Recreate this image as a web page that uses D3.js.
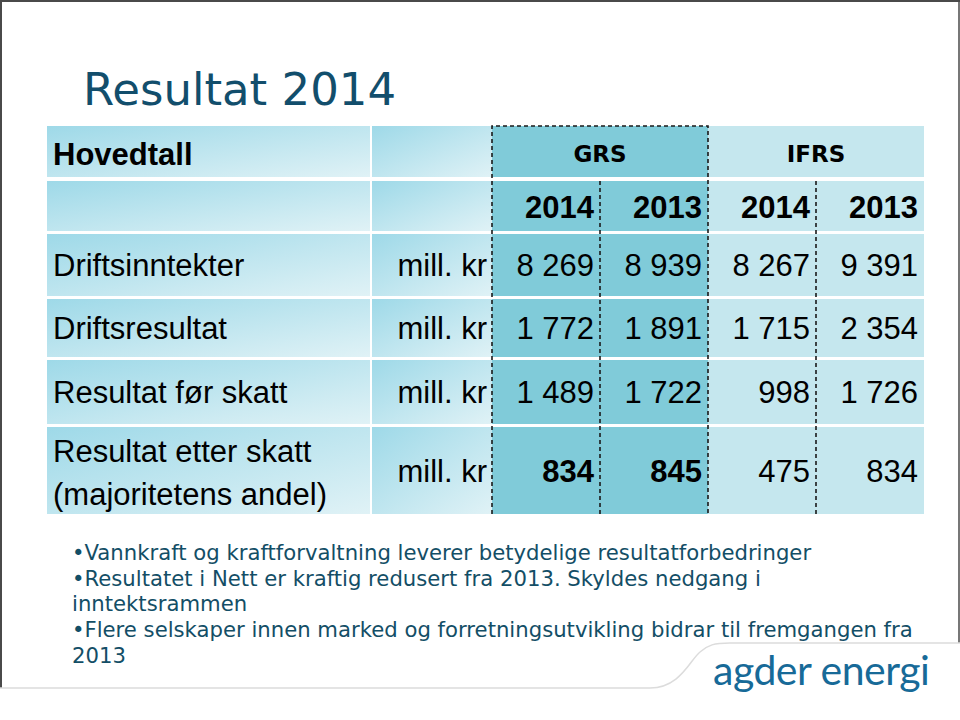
<!DOCTYPE html>
<html>
<head>
<meta charset="utf-8">
<script src="https://cdn.jsdelivr.net/npm/d3@7"></script>
<style>
  html, body { margin: 0; padding: 0; background: #fff; }
  svg { display: block; }
</style>
</head>
<body>
<svg id="chart" width="960" height="720"></svg>
<script>
// ---------------- DATA ----------------
const title = "Resultat 2014";
const tableHeading = "Hovedtall";
const groups = ["GRS", "IFRS"];
const columns = ["GRS 2014", "GRS 2013", "IFRS 2014", "IFRS 2013"];
const yearLabels = ["2014", "2013", "2014", "2013"];
const rowLabels = ["Driftsinntekter", "Driftsresultat", "Resultat før skatt", "Resultat etter skatt\n(majoritetens andel)"];
const unitLabel = "mill. kr";
const grs2014 = [8269, 1772, 1489, 834];
const grs2013 = [8939, 1891, 1722, 845];
const ifrs2014 = [8267, 1715, 998, 475];
const ifrs2013 = [9391, 2354, 1726, 834];
const bullets = [
  "•Vannkraft og kraftforvaltning leverer betydelige resultatforbedringer",
  "•Resultatet i Nett er kraftig redusert fra 2013. Skyldes nedgang i\ninntektsrammen",
  "•Flere selskaper innen marked og forretningsutvikling bidrar til fremgangen fra\n2013"
];
const logoText = "agder energi";

// ---------------- LAYOUT / STYLE ----------------
const svg = d3.select("#chart");
const W = 960, H = 720;
const numFmt = d3.formatLocale({decimal: ",", thousands: " ", grouping: [3], currency: ["", ""]}).format(",d");
const seriesByCol = [grs2014, grs2013, ifrs2014, ifrs2013];

const tableLeft = 47, labelColRight = 370, unitColLeft = 372, dataLeft = 492, dataRight = 924;
const header1 = {top: 126, h: 51};
const header2 = {top: 181, h: 50};
const rowTops = [234, 299, 360, 427];
const rowHeights = [62, 58, 64, 87];
const boldRowIndex = 3; // GRS values bold in last row

const colScale = d3.scaleBand().domain(columns).range([dataLeft, dataRight]).paddingInner(0).paddingOuter(0);
const groupScale = d3.scaleBand().domain(groups).range([dataLeft, dataRight]);
const rowY = d3.scaleOrdinal().domain(rowLabels).range(rowTops);
const rowH = d3.scaleOrdinal().domain(rowLabels).range(rowHeights);

const grsFill = "#80cbd9";
const ifrsFill = "#c5e7ee";
const textFont = "'Liberation Sans', Arial, sans-serif";
const fs = 31;

const defs = svg.append("defs");
const grad = defs.append("linearGradient").attr("id", "cellGrad")
  .attr("x1", 0).attr("y1", 0).attr("x2", 1).attr("y2", 1);
grad.append("stop").attr("offset", "0%").attr("stop-color", "#9ed9e8");
grad.append("stop").attr("offset", "100%").attr("stop-color", "#e0f2f6");

// ---------------- FRAME ----------------
const frame = svg.append("g");
frame.append("line").attr("x1", 1).attr("y1", 0).attr("x2", 1).attr("y2", 688).attr("stroke", "#4a4a4a").attr("stroke-width", 2);
frame.append("line").attr("x1", 0).attr("y1", 1).attr("x2", W).attr("y2", 1).attr("stroke", "#4a4a4a").attr("stroke-width", 2);
frame.append("line").attr("x1", 959).attr("y1", 0).attr("x2", 959).attr("y2", 643).attr("stroke", "#4a4a4a").attr("stroke-width", 1.5);
frame.append("path")
  .attr("d", "M0,688 L650,688 C680,688 690,660 700,652 C708,645 714,643 730,643 L960,643")
  .attr("fill", "none").attr("stroke", "#dcdcdc").attr("stroke-width", 1.5);

// ---------------- TITLE ----------------
svg.append("text").attr("x", 83).attr("y", 105)
  .attr("font-family", "'DejaVu Sans', Verdana, sans-serif").attr("font-size", 45)
  .attr("fill", "#124e6c").text(title);

// ---------------- TABLE ----------------
const table = svg.append("g");
// header row 1
table.append("rect").attr("x", tableLeft).attr("y", header1.top).attr("width", labelColRight - tableLeft).attr("height", header1.h).attr("fill", "url(#cellGrad)");
table.append("rect").attr("x", unitColLeft).attr("y", header1.top).attr("width", dataLeft - unitColLeft).attr("height", header1.h).attr("fill", "url(#cellGrad)");
table.selectAll("rect.grp").data(groups).join("rect").attr("class", "grp")
  .attr("x", d => groupScale(d)).attr("y", header1.top)
  .attr("width", groupScale.bandwidth()).attr("height", header1.h)
  .attr("fill", (d, i) => i === 0 ? grsFill : ifrsFill);

// header row 2 + data rows
const allRows = [{top: header2.top, h: header2.h, key: "__years"}].concat(rowLabels.map(r => ({top: rowY(r), h: rowH(r), key: r})));
allRows.forEach(r => {
  table.append("rect").attr("x", tableLeft).attr("y", r.top).attr("width", labelColRight - tableLeft).attr("height", r.h).attr("fill", "url(#cellGrad)");
  table.append("rect").attr("x", unitColLeft).attr("y", r.top).attr("width", dataLeft - unitColLeft).attr("height", r.h).attr("fill", "url(#cellGrad)");
  table.selectAll(null).data(columns).join("rect")
    .attr("x", c => colScale(c)).attr("y", r.top)
    .attr("width", colScale.bandwidth()).attr("height", r.h)
    .attr("fill", c => c.startsWith("GRS") ? grsFill : ifrsFill);
});

// header texts
table.append("text").attr("x", 53).attr("y", 165)
  .attr("font-family", textFont).attr("font-size", fs).attr("font-weight", "bold").attr("fill", "#000")
  .text(tableHeading);
table.selectAll("text.grp").data(groups).join("text").attr("class", "grp")
  .attr("x", d => groupScale(d) + groupScale.bandwidth() / 2).attr("y", 162)
  .attr("text-anchor", "middle")
  .attr("font-family", "'DejaVu Sans', Verdana, sans-serif").attr("font-size", 23).attr("font-weight", "bold")
  .attr("fill", "#000").text(d => d);
table.selectAll("text.yr").data(columns).join("text").attr("class", "yr")
  .attr("x", c => colScale(c) + colScale.bandwidth() - 6).attr("y", 218)
  .attr("text-anchor", "end")
  .attr("font-family", textFont).attr("font-size", fs).attr("font-weight", "bold").attr("fill", "#000")
  .text((c, i) => yearLabels[i]);

// data rows texts
rowLabels.forEach((r, ri) => {
  const base = rowY(r) + rowH(r) / 2 + 11;
  const lines = r.split("\n");
  const lbl = table.append("text").attr("x", 53)
    .attr("font-family", textFont).attr("font-size", fs).attr("fill", "#000");
  if (lines.length === 1) {
    lbl.attr("y", base).text(lines[0]);
  } else {
    lines.forEach((ln, li) => {
      lbl.append("tspan").attr("x", 53).attr("y", base - 20 + li * 43).text(ln);
    });
  }
  table.append("text").attr("x", 487).attr("y", base).attr("text-anchor", "end")
    .attr("font-family", textFont).attr("font-size", fs).attr("fill", "#000").text(unitLabel);
  table.selectAll(null).data(columns).join("text")
    .attr("x", c => colScale(c) + colScale.bandwidth() - 6).attr("y", base)
    .attr("text-anchor", "end")
    .attr("font-family", textFont).attr("font-size", fs)
    .attr("font-weight", c => (ri === boldRowIndex && c.startsWith("GRS")) ? "bold" : "normal")
    .attr("fill", "#000")
    .text((c, ci) => numFmt(seriesByCol[ci][ri]));
});

// dashed lines
const tableBottom = rowY(rowLabels[rowLabels.length - 1]) + rowH(rowLabels[rowLabels.length - 1]);
const dash = g => g.attr("stroke", "#1a1a1a").attr("stroke-width", 1.6).attr("stroke-dasharray", "4,3").attr("fill", "none");
const grsX0 = groupScale("GRS"), grsX1 = groupScale("GRS") + groupScale.bandwidth();
table.append("path").attr("d", `M${grsX0},${tableBottom} L${grsX0},${header1.top} L${grsX1},${header1.top} L${grsX1},${tableBottom}`).call(dash);
[columns[0], columns[2]].forEach(c => {
  const x = colScale(c) + colScale.bandwidth();
  table.append("line").attr("x1", x).attr("x2", x).attr("y1", header2.top).attr("y2", tableBottom).call(dash);
});

// ---------------- BULLETS ----------------
const bulletG = svg.append("g").attr("font-family", "'DejaVu Sans', Verdana, sans-serif").attr("font-size", 21.2).attr("fill", "#134e66");
let lineIdx = 0;
bullets.forEach(b => {
  b.split("\n").forEach(ln => {
    bulletG.append("text").attr("x", 72).attr("y", 560 + lineIdx * 25.7).text(ln);
    lineIdx++;
  });
});

// ---------------- LOGO ----------------
svg.append("text").attr("x", 713).attr("y", 685)
  .attr("font-family", "Lato, 'Noto Sans', sans-serif").attr("font-size", 41).attr("letter-spacing", -0.5)
  .attr("fill", "#176a98").text(logoText);
</script>
</body>
</html>
